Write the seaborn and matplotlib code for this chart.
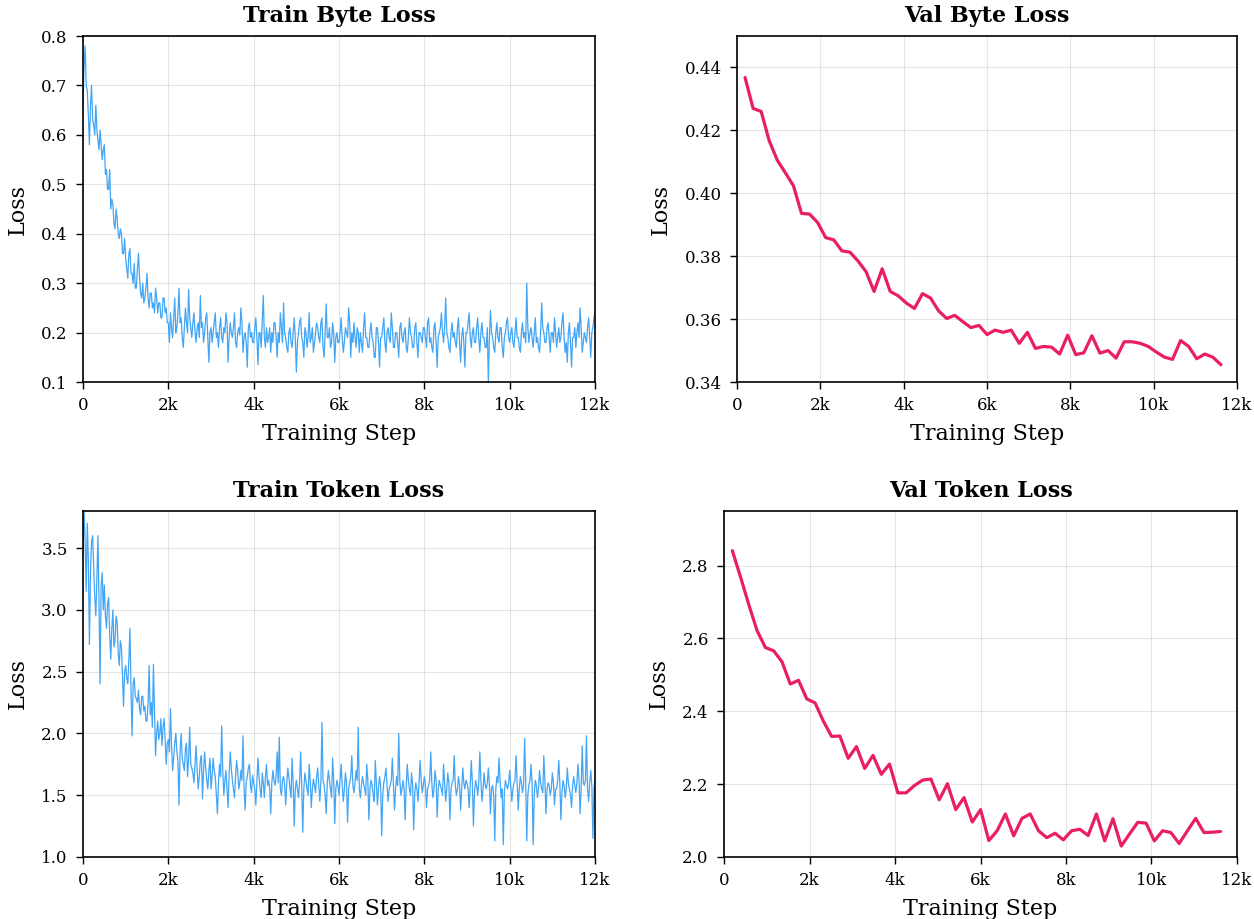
import numpy as np
import matplotlib
matplotlib.use("Agg")
import matplotlib.pyplot as plt
from matplotlib.ticker import FuncFormatter, MultipleLocator
import seaborn as sns

# training loss logged every 25 steps
train_steps = np.arange(0, 12001, 25)

train_byte_loss = [
    0.66, 0.74, 0.78, 0.70, 0.69, 0.64, 0.58, 0.66, 0.70, 0.63, 0.62, 0.60, 0.66, 0.61, 0.59, 0.57, 0.61, 0.58, 0.55, 0.57,
    0.58, 0.52, 0.53, 0.49, 0.49, 0.53, 0.45, 0.47, 0.46, 0.42, 0.41, 0.45, 0.43, 0.40, 0.39, 0.41, 0.40, 0.36, 0.36, 0.39,
    0.35, 0.33, 0.31, 0.36, 0.37, 0.32, 0.32, 0.30, 0.34, 0.29, 0.29, 0.33, 0.36, 0.31, 0.28, 0.27, 0.30, 0.26, 0.27, 0.29,
    0.32, 0.27, 0.25, 0.28, 0.28, 0.25, 0.26, 0.24, 0.29, 0.27, 0.24, 0.26, 0.26, 0.23, 0.23, 0.27, 0.27, 0.24, 0.25, 0.22,
    0.22, 0.18, 0.24, 0.21, 0.19, 0.23, 0.27, 0.20, 0.21, 0.24, 0.29, 0.22, 0.23, 0.19, 0.17, 0.21, 0.25, 0.22, 0.20, 0.287,
    0.23, 0.21, 0.19, 0.22, 0.24, 0.20, 0.18, 0.21, 0.22, 0.19, 0.275, 0.21, 0.22, 0.18, 0.20, 0.23, 0.24, 0.19, 0.14, 0.20,
    0.21, 0.18, 0.20, 0.22, 0.24, 0.19, 0.20, 0.17, 0.21, 0.23, 0.19, 0.18, 0.21, 0.20, 0.24, 0.22, 0.14, 0.19, 0.22, 0.20,
    0.19, 0.21, 0.24, 0.18, 0.17, 0.20, 0.21, 0.195, 0.25, 0.22, 0.16, 0.19, 0.20, 0.18, 0.13, 0.21, 0.22, 0.19, 0.20, 0.18,
    0.18, 0.21, 0.23, 0.19, 0.135, 0.20, 0.20, 0.17, 0.22, 0.275, 0.19, 0.17, 0.21, 0.18, 0.19, 0.21, 0.16, 0.20, 0.18, 0.22,
    0.22, 0.19, 0.15, 0.20, 0.18, 0.24, 0.21, 0.18, 0.26, 0.20, 0.19, 0.17, 0.16, 0.20, 0.21, 0.18, 0.17, 0.20, 0.23, 0.19,
    0.12, 0.18, 0.20, 0.22, 0.23, 0.19, 0.18, 0.15, 0.21, 0.20, 0.17, 0.19, 0.24, 0.18, 0.19, 0.21, 0.16, 0.18, 0.20, 0.22,
    0.21, 0.19, 0.18, 0.22, 0.23, 0.17, 0.15, 0.20, 0.258, 0.19, 0.19, 0.21, 0.17, 0.18, 0.22, 0.20, 0.14, 0.19, 0.20, 0.18,
    0.18, 0.20, 0.23, 0.19, 0.16, 0.18, 0.21, 0.20, 0.19, 0.25, 0.22, 0.15, 0.20, 0.18, 0.22, 0.19, 0.17, 0.21, 0.20, 0.16,
    0.20, 0.18, 0.16, 0.21, 0.24, 0.19, 0.19, 0.17, 0.17, 0.20, 0.22, 0.19, 0.18, 0.15, 0.15, 0.21, 0.21, 0.18, 0.13, 0.19,
    0.19, 0.21, 0.23, 0.18, 0.16, 0.20, 0.21, 0.19, 0.18, 0.24, 0.21, 0.17, 0.17, 0.20, 0.20, 0.18, 0.15, 0.21, 0.22, 0.19,
    0.18, 0.20, 0.21, 0.17, 0.16, 0.19, 0.23, 0.20, 0.19, 0.17, 0.17, 0.21, 0.22, 0.18, 0.15, 0.20, 0.20, 0.19, 0.18, 0.21,
    0.21, 0.19, 0.17, 0.22, 0.23, 0.18, 0.19, 0.17, 0.16, 0.21, 0.22, 0.18, 0.13, 0.19, 0.20, 0.21, 0.24, 0.20, 0.18, 0.21,
    0.27, 0.20, 0.19, 0.17, 0.16, 0.20, 0.22, 0.19, 0.20, 0.18, 0.17, 0.21, 0.23, 0.18, 0.14, 0.19, 0.21, 0.18, 0.13, 0.20,
    0.20, 0.22, 0.24, 0.19, 0.17, 0.20, 0.21, 0.18, 0.18, 0.21, 0.23, 0.19, 0.16, 0.20, 0.22, 0.19, 0.19, 0.17, 0.17, 0.21,
    0.10, 0.19, 0.245, 0.20, 0.19, 0.17, 0.16, 0.20, 0.22, 0.19, 0.18, 0.21, 0.21, 0.17, 0.15, 0.19, 0.20, 0.22, 0.23, 0.19,
    0.18, 0.20, 0.21, 0.18, 0.17, 0.20, 0.23, 0.19, 0.19, 0.17, 0.16, 0.20, 0.22, 0.19, 0.20, 0.18, 0.30, 0.21, 0.18, 0.20,
    0.21, 0.19, 0.17, 0.20, 0.23, 0.18, 0.19, 0.17, 0.16, 0.20, 0.26, 0.21, 0.20, 0.18, 0.18, 0.21, 0.22, 0.19, 0.16, 0.20,
    0.20, 0.18, 0.23, 0.20, 0.17, 0.19, 0.21, 0.18, 0.19, 0.22, 0.24, 0.19, 0.16, 0.18, 0.14, 0.20, 0.22, 0.18, 0.13, 0.19,
    0.19, 0.21, 0.17, 0.20, 0.22, 0.19, 0.25, 0.21, 0.16, 0.18, 0.20, 0.19, 0.18, 0.21, 0.23, 0.19, 0.15, 0.20, 0.21, 0.23,
    0.24,
]

train_token_loss = [
    3.45, 3.80, 3.55, 3.15, 3.70, 3.40, 2.72, 3.30, 3.55, 3.60, 3.35, 3.10, 2.95, 3.25, 3.60, 3.05, 2.40, 3.20, 3.30, 3.00,
    3.20, 2.95, 2.85, 3.05, 3.10, 2.80, 2.60, 2.85, 3.00, 2.70, 2.75, 2.95, 2.90, 2.65, 2.55, 2.75, 2.70, 2.45, 2.22, 2.50,
    2.55, 2.45, 2.40, 2.60, 2.85, 2.35, 1.98, 2.40, 2.45, 2.30, 2.28, 2.25, 2.35, 2.20, 2.15, 2.30, 2.30, 2.18, 2.22, 2.10,
    2.10, 2.25, 2.55, 2.15, 2.25, 2.05, 2.56, 2.20, 1.82, 2.00, 2.10, 1.95, 2.00, 2.12, 1.90, 2.05, 2.12, 1.95, 1.75, 1.92,
    1.95, 1.85, 2.20, 1.90, 1.70, 1.80, 1.92, 2.00, 1.85, 1.78, 1.42, 1.85, 2.00, 1.80, 1.75, 1.70, 1.88, 1.92, 1.65, 1.80,
    2.05, 1.75, 1.72, 1.68, 1.60, 1.75, 1.90, 1.70, 1.55, 1.65, 1.78, 1.82, 1.47, 1.70, 1.85, 1.72, 1.62, 1.55, 1.70, 1.80,
    1.55, 1.65, 1.80, 1.70, 1.65, 1.50, 1.35, 1.60, 1.75, 1.65, 2.06, 1.70, 1.50, 1.62, 1.70, 1.55, 1.40, 1.68, 1.85, 1.72,
    1.62, 1.55, 1.48, 1.65, 1.78, 1.70, 1.55, 1.60, 1.70, 1.62, 1.98, 1.55, 1.38, 1.60, 1.65, 1.72, 1.75, 1.58, 1.52, 1.66,
    1.60, 1.55, 1.42, 1.62, 1.80, 1.65, 1.55, 1.48, 1.68, 1.60, 1.48, 1.65, 1.75, 1.58, 1.62, 1.55, 1.35, 1.60, 1.70, 1.62,
    1.58, 1.65, 1.85, 1.60, 1.97, 1.55, 1.50, 1.62, 1.65, 1.58, 1.42, 1.60, 1.72, 1.65, 1.55, 1.48, 1.80, 1.60, 1.25, 1.55,
    1.62, 1.55, 1.48, 1.60, 1.85, 1.58, 1.20, 1.55, 1.68, 1.62, 1.55, 1.50, 1.75, 1.62, 1.40, 1.55, 1.63, 1.58, 1.52, 1.65,
    1.72, 1.58, 1.45, 1.60, 2.09, 1.62, 1.58, 1.50, 1.35, 1.60, 1.70, 1.62, 1.55, 1.48, 1.80, 1.62, 1.27, 1.55, 1.62, 1.58,
    1.50, 1.62, 1.75, 1.58, 1.45, 1.55, 1.68, 1.60, 1.28, 1.55, 1.60, 1.65, 1.82, 1.58, 1.52, 1.60, 1.70, 1.62, 2.05, 1.55,
    1.48, 1.58, 1.65, 1.60, 1.55, 1.50, 1.75, 1.62, 1.30, 1.55, 1.62, 1.58, 1.50, 1.45, 1.78, 1.60, 1.42, 1.55, 1.65, 1.58,
    1.17, 1.50, 1.60, 1.65, 1.72, 1.58, 1.45, 1.55, 1.58, 1.62, 1.80, 1.60, 1.38, 1.55, 1.65, 1.58, 2.00, 1.62, 1.50, 1.55,
    1.62, 1.55, 1.30, 1.58, 1.75, 1.62, 1.55, 1.50, 1.68, 1.58, 1.22, 1.52, 1.60, 1.55, 1.45, 1.60, 1.78, 1.62, 1.52, 1.58,
    1.65, 1.58, 1.40, 1.55, 1.58, 1.62, 1.85, 1.60, 1.48, 1.55, 1.70, 1.62, 1.32, 1.55, 1.62, 1.58, 1.55, 1.50, 1.75, 1.60,
    1.45, 1.55, 1.68, 1.60, 1.30, 1.55, 1.60, 1.62, 1.82, 1.58, 1.50, 1.55, 1.65, 1.58, 1.38, 1.55, 1.72, 1.60, 1.55, 1.62,
    1.60, 1.55, 1.40, 1.58, 1.78, 1.60, 1.25, 1.52, 1.62, 1.58, 1.50, 1.60, 1.85, 1.62, 1.45, 1.55, 1.68, 1.58, 1.55, 1.60,
    1.72, 1.58, 1.35, 1.55, 1.58, 1.50, 1.13, 1.55, 1.65, 1.60, 1.80, 1.62, 1.48, 1.55, 1.10, 1.52, 1.62, 1.58, 1.55, 1.60,
    1.70, 1.58, 1.45, 1.55, 1.60, 1.62, 1.82, 1.60, 1.38, 1.55, 1.65, 1.60, 1.52, 1.58, 1.96, 1.62, 1.13, 1.50, 1.58, 1.62,
    1.75, 1.60, 1.10, 1.50, 1.62, 1.58, 1.48, 1.55, 1.70, 1.60, 1.55, 1.52, 1.82, 1.62, 1.35, 1.55, 1.60, 1.58, 1.50, 1.55,
    1.68, 1.60, 1.42, 1.55, 1.55, 1.62, 1.78, 1.60, 1.30, 1.52, 1.62, 1.58, 1.48, 1.55, 1.72, 1.60, 1.55, 1.50, 1.40, 1.58,
    1.65, 1.58, 1.52, 1.60, 1.75, 1.62, 1.35, 1.55, 1.90, 1.60, 1.58, 1.62, 1.98, 1.55, 1.45, 1.60, 1.70, 1.58, 1.15, 1.55,
    1.62,
]

# validation evaluated 60 times over the run
val_steps = [
    194, 387, 581, 774, 968, 1162, 1355, 1549, 1742, 1936,
    2130, 2323, 2517, 2710, 2904, 3098, 3291, 3485, 3678, 3872,
    4066, 4259, 4453, 4646, 4840, 5034, 5227, 5421, 5614, 5808,
    6002, 6195, 6389, 6582, 6776, 6970, 7163, 7357, 7550, 7744,
    7938, 8131, 8325, 8518, 8712, 8906, 9099, 9293, 9486, 9680,
    9874, 10067, 10261, 10454, 10648, 10842, 11035, 11229, 11422, 11616,
]

val_byte_loss = [
    0.4368, 0.4270, 0.4260, 0.4167, 0.4105, 0.4065, 0.4024, 0.3936, 0.3934, 0.3907,
    0.3859, 0.3852, 0.3817, 0.3813, 0.3785, 0.3751, 0.3688, 0.3760, 0.3688, 0.3674,
    0.3651, 0.3634, 0.3681, 0.3667, 0.3626, 0.3602, 0.3612, 0.3592, 0.3573, 0.3580,
    0.3551, 0.3565, 0.3558, 0.3565, 0.3523, 0.3558, 0.3507, 0.3513, 0.3511, 0.3489,
    0.3549, 0.3487, 0.3493, 0.3547, 0.3492, 0.3500, 0.3476, 0.3528, 0.3528, 0.3523,
    0.3513, 0.3495, 0.3479, 0.3472, 0.3532, 0.3513, 0.3474, 0.3489, 0.3479, 0.3455,
]

val_token_loss = [
    2.841, 2.768, 2.692, 2.621, 2.575, 2.566, 2.536, 2.475, 2.485, 2.434,
    2.423, 2.373, 2.331, 2.332, 2.271, 2.303, 2.243, 2.279, 2.227, 2.255,
    2.176, 2.176, 2.196, 2.211, 2.214, 2.157, 2.201, 2.130, 2.163, 2.096,
    2.130, 2.045, 2.072, 2.118, 2.058, 2.106, 2.118, 2.072, 2.053, 2.065,
    2.047, 2.072, 2.076, 2.059, 2.118, 2.044, 2.105, 2.030, 2.063, 2.095,
    2.093, 2.044, 2.072, 2.067, 2.037, 2.072, 2.106, 2.067, 2.068, 2.070,
]

train_color = "#42A5F5"
val_color = "#E91E63"

sns.set_style("ticks")
plt.rcParams["font.family"] = ["DejaVu Serif"]
plt.rcParams["text.color"] = "black"
plt.rcParams["axes.labelcolor"] = "black"
plt.rcParams["xtick.color"] = "black"
plt.rcParams["ytick.color"] = "black"
plt.rcParams["axes.edgecolor"] = "black"
plt.rcParams["axes.linewidth"] = 1.2

fig = plt.figure(figsize=(12.54, 9.19), dpi=100)

# axes placed to match the original layout
ax_tl = fig.add_axes([0.0662, 0.5843, 0.4083, 0.3765])
ax_tr = fig.add_axes([0.5877, 0.5843, 0.3987, 0.3765])
ax_bl = fig.add_axes([0.0662, 0.0675, 0.4083, 0.3765])
ax_br = fig.add_axes([0.5774, 0.0675, 0.4090, 0.3765])

sns.lineplot(x=train_steps, y=train_byte_loss, ax=ax_tl, color=train_color, linewidth=0.9)
sns.lineplot(x=val_steps, y=val_byte_loss, ax=ax_tr, color=val_color, linewidth=2.3)
sns.lineplot(x=train_steps, y=train_token_loss, ax=ax_bl, color=train_color, linewidth=0.9)
sns.lineplot(x=val_steps, y=val_token_loss, ax=ax_br, color=val_color, linewidth=2.3)

k_fmt = FuncFormatter(lambda v, p: "0" if v == 0 else f"{int(v / 1000)}k")

panels = [
    (ax_tl, "Train Byte Loss", (0.1, 0.8), 0.1, "{:.1f}"),
    (ax_tr, "Val Byte Loss", (0.34, 0.45), 0.02, "{:.2f}"),
    (ax_bl, "Train Token Loss", (1.0, 3.8), 0.5, "{:.1f}"),
    (ax_br, "Val Token Loss", (2.0, 2.95), 0.2, "{:.1f}"),
]

for ax, title, ylim, ystep, yfmt in panels:
    ax.set_title(title, fontsize=16, fontweight="bold", pad=10)
    ax.set_xlim(0, 12000)
    ax.set_ylim(*ylim)
    ax.xaxis.set_major_locator(MultipleLocator(2000))
    ax.xaxis.set_major_formatter(k_fmt)
    ax.yaxis.set_major_locator(MultipleLocator(ystep))
    ax.yaxis.set_major_formatter(FuncFormatter(lambda v, p, f=yfmt: f.format(v)))
    ax.set_xlabel("Training Step", fontsize=16, labelpad=6)
    ax.set_ylabel("Loss", fontsize=16, labelpad=9)
    ax.tick_params(axis="both", labelsize=12, length=5, width=1.0, pad=6, direction="out")
    ax.grid(True, color="#cccccc", alpha=0.5, linewidth=0.8)
    for sp in ax.spines.values():
        sp.set_visible(True)
        sp.set_color("black")

fig.savefig("out.png", dpi=100)
